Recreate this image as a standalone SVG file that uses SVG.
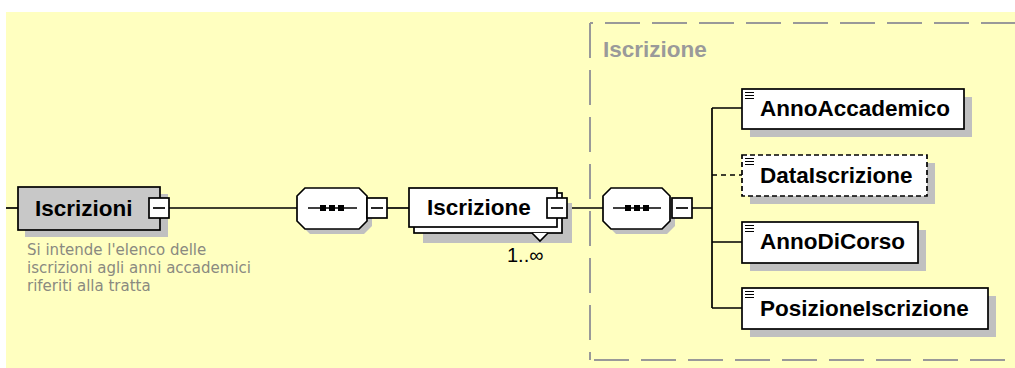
<svg xmlns="http://www.w3.org/2000/svg" width="1015" height="368" viewBox="0 0 1015 368">
<style>
.bg{fill:#ffffc0}
.shadow{fill:#c0c0c0}
.box{fill:#fff;stroke:#000;stroke-width:1.7}
.gbox{fill:#c8c8c8;stroke:#000;stroke-width:1.7}
.dbox{fill:#fff;stroke:#000;stroke-width:1.7;stroke-dasharray:5 3}
.lbl{font-family:"Liberation Sans",Arial,sans-serif;font-weight:bold;font-size:22.5px;fill:#000}
.grp{font-family:"Liberation Sans",Arial,sans-serif;font-weight:bold;font-size:22.5px;fill:#9a9a9a}
.desc{font-family:"DejaVu Sans",Verdana,sans-serif;font-size:15px;fill:#8a8a80}
.occ{font-family:"Liberation Sans",Arial,sans-serif;font-size:20px;fill:#000}
.ln{fill:none;stroke:#000;stroke-width:1.7}
.dln{fill:none;stroke:#000;stroke-width:1.7;stroke-dasharray:5 4}
.gd{fill:none;stroke:#999;stroke-width:2;stroke-dasharray:35 12}
.ic{stroke:#000;stroke-width:1.2}
</style>
<rect x="0" y="0" width="1015" height="368" fill="#fff"/>
<rect class="bg" x="6" y="12" width="1009" height="356"/>

<g id="group-Iscrizione">
<path class="gd" d="M590,23 H1015" stroke-dashoffset="32"/>
<path class="gd" d="M590,23 V360"/>
<path class="gd" d="M590,360 H1015" stroke-dashoffset="-4"/>
<text class="grp" x="603" y="57">Iscrizione</text>
</g>

<g id="connectors">
<path class="ln" d="M6,208 H18"/>
<path class="ln" d="M169,208 H297"/>
<path class="ln" d="M387,208 H409"/>
<path class="ln" d="M567,208 H603"/>
<path class="ln" d="M692,208 H712 M712,108 V308 M712,108 H742 M712,242 H742 M712,308 H742"/>
<path class="dln" d="M712,175 H742"/>
</g>

<g id="node-Iscrizioni">
<rect class="shadow" x="25" y="194" width="143" height="43"/>
<rect class="gbox" x="18" y="187" width="142" height="43"/>
<text class="lbl" x="35" y="216">Iscrizioni</text>
<rect class="box" x="149" y="198" width="20" height="20"/>
<path class="ln" d="M153,208 H165"/>
<text class="desc" x="27" y="255">Si intende l'elenco delle</text>
<text class="desc" x="27" y="273">iscrizioni agli anni accademici</text>
<text class="desc" x="27" y="291">riferiti alla tratta</text>
</g>

<g id="seq-1">
<path class="shadow" d="M310,193 H364 L372,201 V226 L364,234 H310 L302,226 V201 Z"/>
<path class="box" d="M305,188 H359 L367,196 V221 L359,229 H305 L297,221 V196 Z"/>
<path class="ln" d="M308,208 H357"/>
<rect x="320" y="205" width="6" height="6" fill="#000"/>
<rect x="329" y="205" width="6" height="6" fill="#000"/>
<rect x="338" y="205" width="6" height="6" fill="#000"/>
<rect class="box" x="367" y="198" width="20" height="20"/>
<path class="ln" d="M371,208 H383"/>
</g>

<g id="node-Iscrizione">
<rect class="shadow" x="423" y="203" width="149" height="40"/>
<rect class="box" x="414" y="193" width="148" height="40"/>
<path class="box" d="M532,233 L540,241 L548,233"/>
<rect class="box" x="409" y="188" width="148" height="39"/>
<text class="lbl" x="427" y="215">Iscrizione</text>
<rect class="box" x="547" y="198" width="20" height="20"/>
<path class="ln" d="M551,208 H563"/>
<text class="occ" x="507" y="262">1..∞</text>
</g>

<g id="seq-2">
<path class="shadow" d="M616,193 H667 L675,201 V226 L667,234 H616 L608,226 V201 Z"/>
<path class="box" d="M611,188 H662 L670,196 V221 L662,229 H611 L603,221 V196 Z"/>
<path class="ln" d="M613,208 H661"/>
<rect x="625" y="205" width="6" height="6" fill="#000"/>
<rect x="634" y="205" width="6" height="6" fill="#000"/>
<rect x="643" y="205" width="6" height="6" fill="#000"/>
<rect class="box" x="672" y="198" width="20" height="20"/>
<path class="ln" d="M676,208 H688"/>
</g>

<g id="node-AnnoAccademico">
<rect class="shadow" x="750" y="97" width="222" height="40"/>
<rect class="box" x="742" y="89" width="222" height="40"/>
<path class="ic" d="M745,92.5 H754 M745,95.5 H754 M745,98.5 H754"/>
<text class="lbl" x="760" y="116">AnnoAccademico</text>
</g>

<g id="node-DataIscrizione">
<rect class="shadow" x="750" y="163" width="185" height="41"/>
<rect class="dbox" x="742" y="155" width="185" height="41"/>
<path class="ic" d="M745,158.5 H754 M745,161.5 H754 M745,164.5 H754"/>
<text class="lbl" x="760" y="183">DataIscrizione</text>
</g>

<g id="node-AnnoDiCorso">
<rect class="shadow" x="750" y="230" width="176" height="41"/>
<rect class="box" x="742" y="222" width="176" height="41"/>
<path class="ic" d="M745,225.5 H754 M745,228.5 H754 M745,231.5 H754"/>
<text class="lbl" x="760" y="249">AnnoDiCorso</text>
</g>

<g id="node-PosizioneIscrizione">
<rect class="shadow" x="750" y="296" width="246" height="41"/>
<rect class="box" x="742" y="288" width="246" height="41"/>
<path class="ic" d="M745,291.5 H754 M745,294.5 H754 M745,297.5 H754"/>
<text class="lbl" x="760" y="316">PosizioneIscrizione</text>
</g>
</svg>
